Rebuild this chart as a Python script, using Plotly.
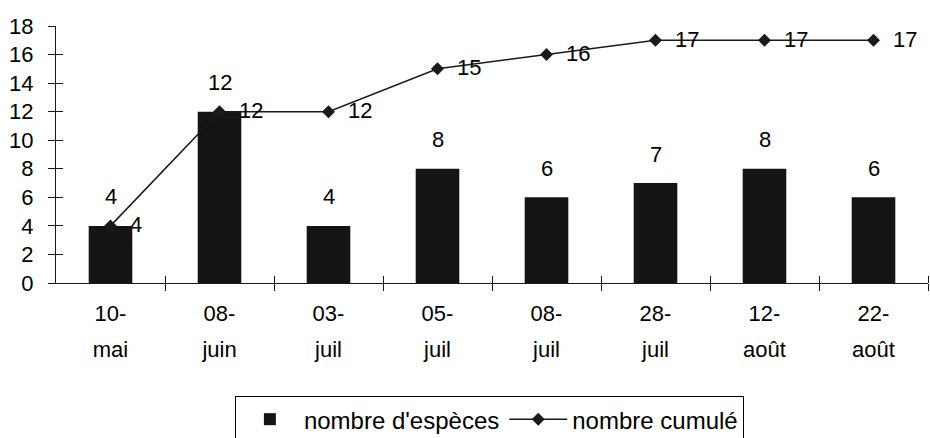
import plotly.graph_objects as go

# Survey dates split into day and month lines, species counts per survey
jours = ["10-", "08-", "03-", "05-", "08-", "28-", "12-", "22-"]
mois = ["mai", "juin", "juil", "juil", "juil", "juil", "août", "août"]
especes = [4, 12, 4, 8, 6, 7, 8, 6]
cumule = [4, 12, 12, 15, 16, 17, 17, 17]
y_ticks = [0, 2, 4, 6, 8, 10, 12, 14, 16, 18]

FONT = "Liberation Sans, Arial, sans-serif"
INK = "#1a1a1a"
pos = list(range(len(jours)))
bounds = [p + 0.5 for p in pos]
xr = [-0.5, len(jours) - 0.5]

fig = go.Figure()
fig.add_trace(go.Bar(
    x=pos, y=especes, name="nombre d'espèces",
    marker=dict(color="#141414", line=dict(width=0)), width=0.4,
))
fig.add_trace(go.Scatter(
    x=pos, y=cumule, name="nombre cumulé", mode="lines+markers",
    xaxis="x2", yaxis="y2",
    line=dict(color=INK, width=1.5),
    marker=dict(symbol="diamond", size=10, color=INK),
))

# value labels: above the bars, to the right of the line markers
for i, v in enumerate(especes):
    fig.add_annotation(x=i, y=v, text=str(v), showarrow=False, yshift=29,
                       font=dict(size=22, color="black", family=FONT))
for i, v in enumerate(cumule):
    fig.add_annotation(x=i, y=v, text=str(v), showarrow=False,
                       xanchor="left", xshift=17, yshift=1,
                       font=dict(size=22, color="black", family=FONT))

tick_font = dict(size=22, color="black", family=FONT)
fig.update_layout(
    width=930, height=438,
    margin=dict(l=56, r=2, t=26, b=155, autoexpand=False),
    paper_bgcolor="white", plot_bgcolor="white",
    font=dict(family=FONT, size=22, color="black"),
    # day line of the category labels + outside half of the boundary ticks
    xaxis=dict(range=xr, tickmode="array", tickvals=pos, ticktext=jours,
               ticks="", ticklabelstandoff=10, tickfont=tick_font,
               showline=True, linecolor=INK, linewidth=1.2,
               showgrid=False, zeroline=False, automargin=False,
               minor=dict(tickmode="array", tickvals=bounds, ticks="outside",
                          ticklen=7, tickcolor=INK, tickwidth=1.2,
                          showgrid=False)),
    # month line of the category labels + inside half of the boundary ticks
    xaxis2=dict(range=xr, overlaying="x", anchor="y2", side="bottom",
                tickmode="array", tickvals=pos, ticktext=mois, ticks="",
                ticklabelstandoff=51, tickfont=tick_font,
                showgrid=False, zeroline=False, showline=False,
                automargin=False,
                minor=dict(tickmode="array", tickvals=bounds, ticks="inside",
                           ticklen=7, tickcolor=INK, tickwidth=1.2,
                           showgrid=False)),
    yaxis=dict(range=[0, 18], tickvals=y_ticks, ticks="outside", ticklen=7,
               tickcolor=INK, tickwidth=1.2, showline=True, linecolor=INK,
               linewidth=1.2, showgrid=False, zeroline=False,
               tickfont=tick_font, ticklabelstandoff=10, automargin=False),
    yaxis2=dict(range=[0, 18], overlaying="y", tickvals=y_ticks,
                showticklabels=False, ticks="inside", ticklen=7,
                tickcolor=INK, tickwidth=1.2, showgrid=False, zeroline=False,
                automargin=False),
    legend=dict(orientation="h", x=0.497, xanchor="center", y=-0.44,
                yanchor="top", bordercolor="black", borderwidth=1,
                itemwidth=58,
                font=dict(size=24, family=FONT, color="black"),
                traceorder="normal"),
    showlegend=True,
)

fig.write_html("out.html")
